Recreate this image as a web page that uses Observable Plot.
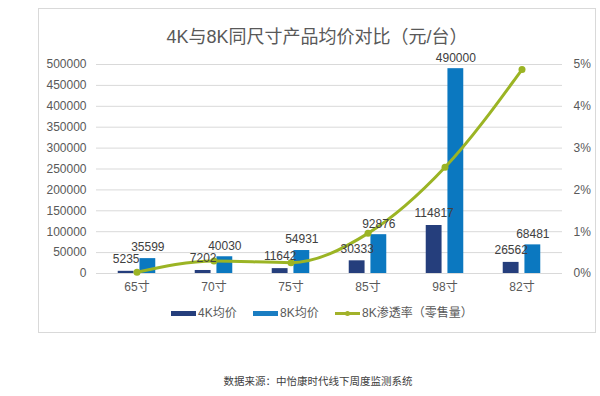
<!DOCTYPE html>
<html><head><meta charset="utf-8">
<script src="https://cdn.jsdelivr.net/npm/d3@7"></script>
<script src="https://cdn.jsdelivr.net/npm/@observablehq/plot@0.6"></script>
<style>
body{margin:0;background:#fff;}
#wrap{position:relative;width:600px;height:396px;overflow:hidden;font-family:"Liberation Sans",Arial,"Noto Sans CJK SC",sans-serif;}
#frame{position:absolute;left:38px;top:8px;width:558px;height:325px;border:1px solid #d9d9d9;box-sizing:border-box;}
#chart{position:absolute;left:0;top:0;}
#title{position:absolute;left:38px;width:558px;top:26px;text-align:center;font-size:18px;line-height:22px;color:#595959;white-space:nowrap;}
.lg{position:absolute;font-size:12px;color:#595959;line-height:14px;top:306px;white-space:nowrap;}
.sw{position:absolute;height:5px;top:311px;}
#cap{position:absolute;left:0;width:636px;top:373px;text-align:center;font-size:10.5px;color:#404040;}
</style></head>
<body><div id="wrap">
<div id="frame"></div>
<div id="chart"></div>
<div id="title">4K与8K同尺寸产品均价对比（元/台）</div>
<div class="sw" style="left:171px;width:25px;background:#253e7c"></div>
<div class="lg" style="left:198px">4K均价</div>
<div class="sw" style="left:253px;width:25px;background:#1a7dc2"></div>
<div class="lg" style="left:280px">8K均价</div>
<div class="sw" style="left:335px;width:25px;height:3px;top:312px;background:#a2b22a"></div>
<div style="position:absolute;left:345px;top:311px;width:5px;height:5px;border-radius:50%;background:#a2b22a"></div>
<div class="lg" style="left:362px">8K渗透率（零售量）</div>
<div id="cap">数据来源：中怡康时代线下周度监测系统</div>
</div>
<script>
const categories = ["65寸","70寸","75寸","85寸","98寸","82寸"];
const price4K = [5235, 7202, 11642, 30333, 114817, 26562];
const price8K = [35599, 40030, 54931, 92876, 490000, 68481];
const penetration = [0.03, 0.30, 0.26, 0.96, 2.54, 4.88]; // %
const priceTicks = [0,50000,100000,150000,200000,250000,300000,350000,400000,450000,500000];
const rateTicks = [0,1,2,3,4,5];
const priceMax = 500000, rateMax = 5;
const k = priceMax / rateMax;

const rows = categories.map((c,i)=>({cat:c, k4:price4K[i], k8:price8K[i], rate:penetration[i]}));

const W = 600, H = 396;
const mL = 96, mR = 38, mT = 64, mB = 123;
const bw = (W - mL - mR) / categories.length;
const half = bw/2, gapHalf = 2.6, barW = 16.5;
const c4 = "#253e7c", c8 = "#0b78c0", cl = "#9bb424";

const plot = Plot.plot({
  width: W, height: H,
  marginLeft: mL, marginRight: mR, marginTop: mT, marginBottom: mB,
  style: {fontFamily: '"Liberation Sans",Arial,"Noto Sans CJK SC",sans-serif', fontSize: "12px", background: "transparent", overflow: "visible"},
  x: {domain: categories, padding: 0, label: null},
  y: {domain: [0, priceMax], label: null},
  marks: [
    Plot.gridY({ticks: priceTicks, stroke: "#d9d9d9", strokeOpacity: 1}),
    Plot.axisY({anchor: "left", ticks: priceTicks, tickFormat: d => String(d), tickSize: 0, tickPadding: 10, color: "#595959", label: null}),
    Plot.axisY({anchor: "right", ticks: rateTicks.map(r => r*k), tickFormat: d => (d/k) + "%", tickSize: 0, tickPadding: 11, color: "#595959", label: null}),
    Plot.axisX({tickSize: 0, tickPadding: 9, color: "#595959", label: null}),
    Plot.barY(rows, {x: "cat", y: "k4", fill: c4, insetLeft: half - gapHalf - barW, insetRight: half + gapHalf}),
    Plot.barY(rows, {x: "cat", y: "k8", fill: c8, insetLeft: half + gapHalf, insetRight: half - gapHalf - barW}),
    Plot.line(rows, {x: "cat", y: d => d.rate*k, curve: "monotone-x", stroke: cl, strokeWidth: 3}),
    Plot.dot(rows, {x: "cat", y: d => d.rate*k, r: 3.5, fill: cl}),
    Plot.text(rows, {x: "cat", y: "k4", text: d => String(d.k4), dx: -(gapHalf + barW/2), dy: -12, fill: "#404040", fontSize: 12}),
    Plot.text(rows, {x: "cat", y: "k8", text: d => String(d.k8), dx: gapHalf + barW/2, dy: -11, fill: "#404040", fontSize: 12})
  ]
});
document.getElementById("chart").appendChild(plot);
</script>
</body></html>
